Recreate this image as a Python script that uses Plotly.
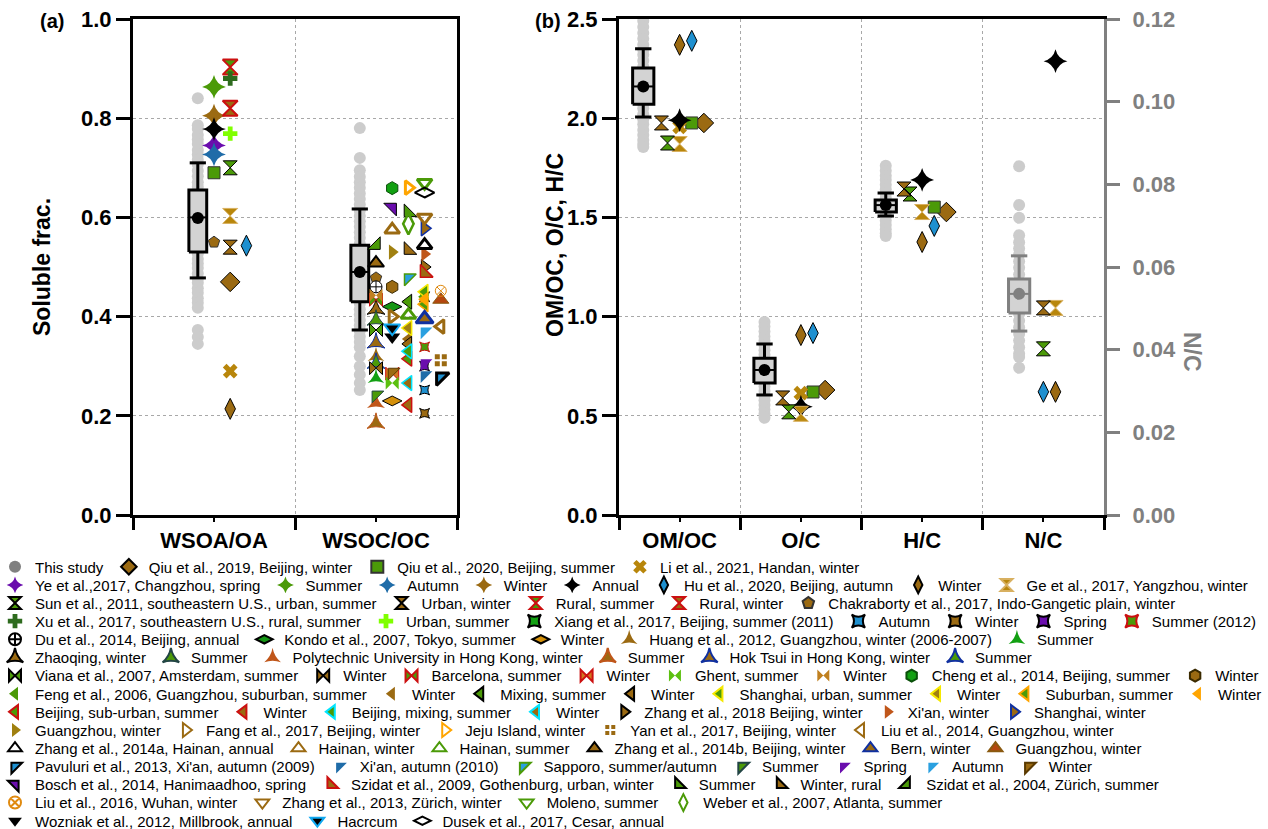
import plotly.graph_objects as go

# ---------------- categories / ticks ----------------
CATS_A = ["WSOA/OA", "WSOC/OC"]
CATS_B = ["OM/OC", "O/C", "H/C", "N/C"]
YTICKS_A = [0.0, 0.2, 0.4, 0.6, 0.8, 1.0]
YTICKS_B = [0.0, 0.5, 1.0, 1.5, 2.0, 2.5]
YTICKS_NC = [0.00, 0.02, 0.04, 0.06, 0.08, 0.10, 0.12]

# ---------------- this study: individual values ----------------
STUDY_WSOA = [0.84, 0.786, 0.778, 0.766, 0.757, 0.748, 0.736, 0.727, 0.716, 0.707, 0.694, 0.683,
              0.671, 0.662, 0.651, 0.643, 0.632, 0.621, 0.612, 0.604, 0.596, 0.588, 0.577, 0.568,
              0.557, 0.546, 0.538, 0.527, 0.516, 0.507, 0.498, 0.487, 0.476, 0.468, 0.457, 0.448,
              0.437, 0.428, 0.418, 0.373, 0.359, 0.345]
STUDY_WSOC = [0.78, 0.72, 0.695, 0.682, 0.671, 0.66, 0.648, 0.637, 0.626, 0.614, 0.603, 0.592,
              0.581, 0.57, 0.559, 0.547, 0.536, 0.525, 0.514, 0.503, 0.492, 0.481, 0.47, 0.459,
              0.448, 0.437, 0.426, 0.415, 0.404, 0.393, 0.382, 0.371, 0.36, 0.349, 0.338, 0.32,
              0.30, 0.283, 0.266, 0.252]
STUDY_OMOC = [2.49, 2.46, 2.43, 2.40, 2.37, 2.345, 2.32, 2.29, 2.26, 2.235, 2.21, 2.18, 2.155,
              2.13, 2.10, 2.075, 2.05, 2.02, 1.995, 1.97, 1.94, 1.915, 1.89, 1.87, 1.855]
STUDY_OC = [0.973, 0.95, 0.925, 0.90, 0.878, 0.855, 0.83, 0.808, 0.785, 0.762, 0.74, 0.715,
            0.692, 0.67, 0.648, 0.625, 0.60, 0.578, 0.555, 0.532, 0.51, 0.49]
STUDY_HC = [1.76, 1.735, 1.71, 1.688, 1.665, 1.642, 1.62, 1.598, 1.575, 1.552, 1.53, 1.508,
            1.485, 1.462, 1.44, 1.42, 1.406]
STUDY_NC = [0.0844, 0.075, 0.0719, 0.0677, 0.066, 0.0645, 0.063, 0.0614, 0.0598, 0.0582, 0.0566,
            0.055, 0.0534, 0.0518, 0.0502, 0.0486, 0.047, 0.0454, 0.0438, 0.0422, 0.0406, 0.039,
            0.0382, 0.0356]

# box statistics: lower whisker, q1, median, q3, upper whisker, mean
BOX_WSOA = [0.478, 0.530, 0.600, 0.655, 0.710, 0.599]
BOX_WSOC = [0.373, 0.430, 0.490, 0.544, 0.617, 0.490]
BOX_OMOC = [2.006, 2.070, 2.160, 2.253, 2.350, 2.160]
BOX_OC = [0.605, 0.665, 0.731, 0.790, 0.862, 0.731]
BOX_HC = [1.507, 1.527, 1.562, 1.588, 1.623, 1.562]
BOX_NC = [0.0445, 0.0489, 0.0535, 0.0571, 0.0627, 0.0535]

# ---------------- literature series ----------------
NAMES = [
    # row 1
    "Qiu et al., 2019, Beijing, winter", "Qiu et al., 2020, Beijing, summer", "Li et al., 2021, Handan, winter",
    # row 2
    "Ye et al.,2017, Changzhou, spring", "Summer", "Autumn", "Winter", "Annual",
    "Hu et al., 2020, Beijing, autumn", "Winter", "Ge et al., 2017, Yangzhou, winter",
    # row 3
    "Sun et al., 2011, southeastern U.S., urban, summer", "Urban, winter", "Rural, summer", "Rural, winter",
    "Chakraborty et al., 2017, Indo-Gangetic plain, winter",
    # row 4
    "Xu et al., 2017, southeastern U.S., rural, summer", "Urban, summer",
    "Xiang et al., 2017, Beijing, summer (2011)", "Autumn", "Winter", "Spring", "Summer (2012)",
    # row 5
    "Du et al., 2014, Beijing, annual", "Kondo et al., 2007, Tokyo, summer", "Winter",
    "Huang et al., 2012, Guangzhou, winter (2006-2007)", "Summer",
    # row 6
    "Zhaoqing, winter", "Summer", "Polytechnic University in Hong Kong, winter", "Summer",
    "Hok Tsui in Hong Kong, winter", "Summer",
    # row 7
    "Viana et al., 2007, Amsterdam, summer", "Winter", "Barcelona, summer", "Winter", "Ghent, summer",
    "Winter", "Cheng et al., 2014, Beijing, summer", "Winter",
    # row 8
    "Feng et al., 2006, Guangzhou, suburban, summer", "Winter", "Mixing, summer", "Winter",
    "Shanghai, urban, summer", "Winter", "Suburban, summer", "Winter",
    # row 9
    "Beijing, sub-urban, summer", "Winter", "Beijing, mixing, summer", "Winter",
    "Zhang et al., 2018 Beijing, winter", "Xi'an, winter", "Shanghai, winter",
    # row 10
    "Guangzhou, winter", "Fang et al., 2017, Beijing, winter", "Jeju Island, winter",
    "Yan et al., 2017, Beijing, winter", "Liu et al., 2014, Guangzhou, winter",
    # row 11
    "Zhang et al., 2014a, Hainan, annual", "Hainan, winter", "Hainan, summer",
    "Zhang et al., 2014b, Beijing, winter", "Bern, winter", "Guangzhou, winter",
    # row 12
    "Pavuluri et al., 2013, Xi'an, autumn (2009)", "Xi'an, autumn (2010)", "Sapporo, summer/autumn",
    "Summer", "Spring", "Autumn", "Winter",
    # row 13
    "Bosch et al., 2014, Hanimaadhoo, spring", "Szidat et al., 2009, Gothenburg, urban, winter",
    "Summer", "Winter, rural", "Szidat et al., 2004, Zürich, summer",
    # row 14
    "Liu et al., 2016, Wuhan, winter", "Zhang et al., 2013, Zürich, winter", "Moleno, summer",
    "Weber et al., 2007, Atlanta, summer",
    # row 15
    "Wozniak et al., 2012, Millbrook, annual", "Hacrcum", "Dusek et al., 2017, Cesar, annual",
]
ROW_SIZES = [3, 8, 5, 7, 5, 6, 8, 8, 7, 5, 6, 7, 5, 4, 3]

# values keyed by series index
VAL_WSOA = {0: 0.47, 1: 0.69, 2: 0.29, 3: 0.745, 4: 0.863, 5: 0.727, 6: 0.805, 7: 0.778,
            8: 0.543, 9: 0.214, 10: 0.603, 11: 0.70, 12: 0.54, 13: 0.903, 14: 0.82, 15: 0.55,
            16: 0.88, 17: 0.769}
VAL_WSOC = {15: 0.478, 18: 0.44, 19: 0.252, 20: 0.205, 21: 0.30, 22: 0.339, 23: 0.46, 24: 0.42,
            25: 0.23, 26: 0.32, 27: 0.276, 28: 0.415, 29: 0.393, 30: 0.226, 31: 0.185, 32: 0.347,
            33: 0.306, 34: 0.373, 35: 0.296, 36: 0.434, 37: 0.285, 38: 0.266, 39: 0.443, 40: 0.659,
            41: 0.46, 42: 0.44, 43: 0.355, 44: 0.43, 45: 0.345, 46: 0.45, 47: 0.377, 48: 0.425,
            49: 0.435, 50: 0.315, 51: 0.222, 52: 0.33, 53: 0.266, 54: 0.50, 55: 0.526, 56: 0.578,
            57: 0.53, 58: 0.40, 59: 0.66, 60: 0.312, 61: 0.38, 62: 0.544, 63: 0.575, 64: 0.403,
            65: 0.508, 66: 0.395, 67: 0.434, 68: 0.278, 69: 0.282, 70: 0.478, 71: 0.242, 72: 0.306,
            73: 0.37, 74: 0.288, 75: 0.62, 76: 0.488, 77: 0.61, 78: 0.534, 79: 0.544, 80: 0.452,
            81: 0.60, 82: 0.67, 83: 0.587, 84: 0.359, 85: 0.377, 86: 0.65}
VAL_OMOC = {0: 1.976, 1: 1.976, 2: 1.956, 7: 1.99, 8: 2.39, 9: 2.37, 10: 1.87, 11: 1.875, 12: 1.976}
VAL_OC = {0: 0.63, 1: 0.62, 2: 0.614, 7: 0.545, 8: 0.917, 9: 0.907, 10: 0.51, 11: 0.52, 12: 0.59}
VAL_HC = {0: 1.527, 1: 1.552, 7: 1.689, 8: 1.457, 9: 1.376, 10: 1.527, 11: 1.618, 12: 1.643}
VAL_NC = {7: 0.1098, 8: 0.0298, 9: 0.0298, 10: 0.0501, 11: 0.0402, 12: 0.0501}

# ---------------- positions (horizontal jitter within category) ----------------
OFF_WSOA = {0: 0.1, 1: 0.0, 2: 0.1, 3: 0.0, 4: 0.0, 5: 0.0, 6: 0.0, 7: 0.0, 8: 0.2, 9: 0.1,
            10: 0.1, 11: 0.1, 12: 0.1, 13: 0.1, 14: 0.1, 15: 0.0, 16: 0.1, 17: 0.1}
OFF_WSOC_DEFAULT = 0.0
OFF_WSOC = {18: 0.3, 19: 0.3, 20: 0.3, 21: 0.3, 22: 0.3, 24: 0.1, 25: 0.1, 37: 0.1, 38: 0.1,
            40: 0.1, 41: 0.1, 42: 0.3, 43: 0.2, 44: 0.2, 45: 0.2, 46: 0.3, 47: 0.2, 48: 0.3,
            49: 0.3, 50: 0.2, 51: 0.2, 52: 0.2, 53: 0.2, 54: 0.3, 55: 0.3, 56: 0.3, 57: 0.1,
            58: 0.1, 59: 0.2, 60: 0.4, 61: 0.4, 62: 0.3, 63: 0.1, 64: 0.2, 66: 0.3, 67: 0.4,
            68: 0.4, 69: 0.3, 70: 0.2, 72: 0.3, 73: 0.3, 74: 0.1, 75: 0.1, 76: 0.3, 77: 0.2,
            78: 0.2, 80: 0.4, 81: 0.3, 82: 0.3, 83: 0.2, 84: 0.1, 85: 0.1, 86: 0.3}
OFF_B = {0: 0.2, 1: 0.1, 2: 0.0, 7: 0.0, 8: 0.1, 9: 0.0, 10: 0.0, 11: -0.1, 12: -0.15}
OFF_NC = {7: 0.1, 8: 0.0, 9: 0.1, 10: 0.1, 11: 0.0, 12: 0.0}
BOX_OFF_A = -0.1
BOX_OFF_B = [-0.3, -0.3, -0.3, -0.2]
BOX_W_A = 0.11
BOX_W_B = 0.175
CAP_A = 0.10
CAP_B = 0.135

# ---------------- styles ----------------
BR = "#9B6A12"; GOLD = "#B8860B"; GR = "#4B9A08"; GRB = "#12A012"; DKG = "#2E6B1E"
LTG = "#80FF00"; PUR = "#6A0DAD"; BLU = "#1F6CA8"; SKY = "#1E90D0"; ORA = "#FFA500"
ORB = "#C0561A"; RED = "#CC1010"; CYA = "#00E5FF"; YEL = "#F5E800"; NAV = "#1030A0"
BLK = "#000000"; WHT = "#FFFFFF"

# symbol, fill, line colour, line width, size
STYLE = [
    ("diamond", BR, BLK, 1, 15), ("square", GR, "#333333", 1, 12), ("x", GOLD, GOLD, 0, 13),
    ("star-diamond", PUR, PUR, 0, 17), ("star-diamond", GR, GR, 0, 17), ("star-diamond", BLU, BLU, 0, 17),
    ("star-diamond", BR, BR, 0, 17), ("star-diamond", BLK, BLK, 0, 17),
    ("diamond-tall", SKY, BLK, 1, 15), ("diamond-tall", BR, BLK, 1, 15), ("hourglass", GOLD, "#D8B060", 1, 15),
    ("hourglass", GR, BLK, 1, 14), ("hourglass", BR, BLK, 1, 14), ("hourglass", GR, RED, 2, 15),
    ("hourglass", BR, RED, 2, 15), ("pentagon", BR, "#333333", 1, 12),
    ("cross", DKG, DKG, 0, 12), ("cross", LTG, LTG, 0, 12),
    ("star-square", GRB, BLK, 1, 9), ("star-square", SKY, BLK, 1, 9), ("star-square", BR, BLK, 1, 9),
    ("star-square", PUR, BLK, 1, 9), ("star-square", GR, RED, 1, 9),
    ("circle-cross", WHT, BLK, 1, 12), ("diamond-wide", "#149614", BLK, 1, 14), ("diamond-wide", "#D4900A", BLK, 1, 14),
    ("star-triangle-up", BR, BR, 0, 12), ("star-triangle-up", GRB, GRB, 0, 12),
    ("star-triangle-up", BR, BLK, 1, 13), ("star-triangle-up", GR, "#244", 1, 13),
    ("star-triangle-up", ORB, ORB, 0, 13), ("star-triangle-up", BR, ORB, 1, 13),
    ("star-triangle-up", BR, NAV, 1, 13), ("star-triangle-up", GR, NAV, 1, 13),
    ("bowtie", GR, BLK, 1, 13), ("bowtie", BR, BLK, 1, 13), ("bowtie", GR, RED, 1, 13),
    ("bowtie", "#D07820", RED, 1, 13), ("bowtie", "#5CC010", "#5CC010", 0, 13), ("bowtie", "#C08020", "#C08020", 0, 13),
    ("hexagon", GRB, "#0A500A", 1, 13), ("hexagon", BR, "#3A2A00", 1, 13),
    ("triangle-left", GR, GR, 0, 13), ("triangle-left", BR, BR, 0, 13), ("triangle-left", GR, BLK, 1, 13),
    ("triangle-left", BR, BLK, 1, 13), ("triangle-left", GR, YEL, 1.5, 13), ("triangle-left", "#A08010", YEL, 1.5, 13),
    ("triangle-left", GR, ORA, 1.5, 13), ("triangle-left", ORA, ORA, 0, 13),
    ("triangle-left", GR, RED, 1.5, 13), ("triangle-left", BR, RED, 1.5, 13), ("triangle-left", GR, CYA, 1.5, 13),
    ("triangle-left", BR, CYA, 1.5, 13), ("triangle-right", BR, BLK, 1, 13), ("triangle-right", ORB, ORB, 0, 13),
    ("triangle-right", BR, NAV, 1.5, 13),
    ("triangle-right", "#A08010", "#A08010", 0, 13), ("triangle-right-open", BR, BR, 3, 12),
    ("triangle-right-open", ORA, ORA, 3, 12), ("square-cross", BR, WHT, 2, 14),
    ("triangle-left-open", BR, BR, 3, 12),
    ("triangle-up-open", BLK, BLK, 3, 13), ("triangle-up-open", BR, BR, 3, 13), ("triangle-up-open", GR, GR, 3, 13),
    ("triangle-up", BR, BLK, 2, 14), ("triangle-up", BR, NAV, 3, 15), ("triangle-up", "#B5470F", "#8A5A10", 1, 14),
    ("triangle-nw", SKY, BLK, 3, 14), ("triangle-nw", BLU, BLU, 0, 13), ("triangle-nw", "#2AA0E0", GR, 1.5, 13),
    ("triangle-nw", GR, "#244", 1, 13), ("triangle-nw", PUR, PUR, 0, 13), ("triangle-nw", "#2AA0E0", "#2AA0E0", 0, 13),
    ("triangle-nw", BR, "#5A3A00", 1, 13),
    ("triangle-ne", PUR, BLK, 1, 14), ("triangle-sw", BR, RED, 1.5, 14), ("triangle-sw", GR, BLK, 1, 14),
    ("triangle-sw", BR, BLK, 1, 14), ("triangle-se", GR, BLK, 1, 14),
    ("circle-x-open", "#E08A10", "#E08A10", 1, 11), ("triangle-down-open", BR, BR, 3, 13),
    ("triangle-down-open", GR, GR, 3, 13), ("diamond-tall-open", GR, GR, 2.5, 15),
    ("triangle-down", BLK, BLK, 0, 14), ("triangle-down", BLK, "#10A8F0", 2, 14),
    ("diamond-wide-open", BLK, BLK, 2, 14),
]

FONT = "Liberation Sans, Arial, sans-serif"
DOT = "#CCCCCC"
BOXFILL = "#D3D3D3"
NCGRAY = "#808080"

fig = go.Figure()

# legend rows
row_of = []
for r, n in enumerate(ROW_SIZES):
    row_of += [r] * n


def lname(r):
    return "legend" if r == 0 else f"legend{r + 1}"


# "This study" legend entry
fig.add_trace(go.Scatter(x=[None], y=[None], mode="markers", name="This study",
                         marker=dict(symbol="circle", size=13, color=NCGRAY),
                         legend="legend", showlegend=True))


def study(xpos, vals, stats, xa, ya, col, w, cap):
    lo, q1, med, q3, hi, mean = stats
    fig.add_trace(go.Scatter(x=[xpos] * len(vals), y=vals, mode="markers", xaxis=xa, yaxis=ya,
                             marker=dict(symbol="circle", size=12, color=DOT), showlegend=False,
                             hoverinfo="y"))
    # whiskers + caps
    fig.add_trace(go.Scatter(
        x=[xpos, xpos, None, xpos, xpos, None, xpos - cap / 2, xpos + cap / 2, None, xpos - cap / 2, xpos + cap / 2],
        y=[q3, hi, None, q1, lo, None, hi, hi, None, lo, lo],
        mode="lines", line=dict(color=col, width=3), xaxis=xa, yaxis=ya, showlegend=False, hoverinfo="skip"))
    # box
    fig.add_trace(go.Scatter(
        x=[xpos - w / 2, xpos + w / 2, xpos + w / 2, xpos - w / 2, xpos - w / 2],
        y=[q1, q1, q3, q3, q1], mode="lines", fill="toself", fillcolor=BOXFILL,
        line=dict(color=col, width=3), xaxis=xa, yaxis=ya, showlegend=False, hoverinfo="skip"))
    # median
    fig.add_trace(go.Scatter(x=[xpos - w / 2, xpos + w / 2], y=[med, med], mode="lines",
                             line=dict(color=col, width=2), xaxis=xa, yaxis=ya, showlegend=False,
                             hoverinfo="skip"))
    # mean
    fig.add_trace(go.Scatter(x=[xpos], y=[mean], mode="markers", xaxis=xa, yaxis=ya,
                             marker=dict(symbol="circle", size=12, color=col), showlegend=False))


study(0 + BOX_OFF_A, STUDY_WSOA, BOX_WSOA, "x", "y", BLK, BOX_W_A, CAP_A)
study(1 + BOX_OFF_A, STUDY_WSOC, BOX_WSOC, "x", "y", BLK, BOX_W_A, CAP_A)
study(0 + BOX_OFF_B[0], STUDY_OMOC, BOX_OMOC, "x2", "y2", BLK, BOX_W_B, CAP_B)
study(1 + BOX_OFF_B[1], STUDY_OC, BOX_OC, "x2", "y2", BLK, BOX_W_B, CAP_B)
study(2 + BOX_OFF_B[2], STUDY_HC, BOX_HC, "x2", "y2", BLK, BOX_W_B, CAP_B)
study(3 + BOX_OFF_B[3], STUDY_NC, BOX_NC, "x2", "y3", NCGRAY, BOX_W_B, CAP_B)

# literature markers
for i, name in enumerate(NAMES):
    sym, fill, lc, lw, size = STYLE[i]
    marker = dict(symbol=sym, color=fill, size=size, line=dict(color=lc, width=lw))
    groups = []
    xa_, ya_ = [], []
    if i in VAL_WSOA:
        xa_.append(0 + OFF_WSOA.get(i, 0.0)); ya_.append(VAL_WSOA[i])
    if i in VAL_WSOC:
        xa_.append(1 + OFF_WSOC.get(i, OFF_WSOC_DEFAULT)); ya_.append(VAL_WSOC[i])
    if xa_:
        groups.append((xa_, ya_, "x", "y"))
    xb_, yb_ = [], []
    for c, d in enumerate([VAL_OMOC, VAL_OC, VAL_HC]):
        if i in d:
            xb_.append(c + OFF_B.get(i, 0.0)); yb_.append(d[i])
    if xb_:
        groups.append((xb_, yb_, "x2", "y2"))
    if i in VAL_NC:
        groups.append(([3 + OFF_NC.get(i, 0.0)], [VAL_NC[i]], "x2", "y3"))
    if not groups:
        groups.append(([None], [None], "x", "y"))
    for k, (gx, gy, xa, ya) in enumerate(groups):
        fig.add_trace(go.Scatter(x=gx, y=gy, mode="markers", name=name, marker=marker,
                                 xaxis=xa, yaxis=ya, legend=lname(row_of[i]), showlegend=(k == 0)))

W, H = 1268, 829
PLOT_H = 530          # plot area occupies the top 530 px; legends live in the bottom margin
MARGIN_B = H - PLOT_H


def px_x(p):
    return p / W


def px_y(p):
    return (PLOT_H - p) / PLOT_H


tickfont = dict(family=FONT, size=22, color=BLK, weight="bold")
catfont = dict(family=FONT, size=22, color=BLK, weight="bold")
grid = dict(showgrid=True, gridcolor="#A8A8A8", griddash="dot", gridwidth=1)

layout = dict(
    width=W, height=H, margin=dict(l=0, r=0, t=0, b=MARGIN_B, autoexpand=False),
    paper_bgcolor="white", plot_bgcolor="white",
    font=dict(family=FONT, color=BLK),
    xaxis=dict(domain=[px_x(133), px_x(457)], range=[-0.5, 1.5], tickvals=[0, 1], ticktext=CATS_A,
               ticks="outside", ticklen=4, tickwidth=2, tickcolor=BLK, showline=True, linewidth=3,
               linecolor=BLK, mirror=True, showgrid=False, zeroline=False, tickfont=catfont,
               minor=dict(tickvals=[-0.5, 0.5, 1.5], ticks="outside", ticklen=12, tickwidth=3,
                          tickcolor=BLK, **grid), anchor="y"),
    yaxis=dict(domain=[px_y(515), px_y(19)], range=[0, 1.0], tickvals=YTICKS_A, tickformat=".1f",
               ticks="outside", ticklen=14, tickwidth=3, tickcolor=BLK, showline=True, linewidth=3,
               linecolor=BLK, mirror=True, zeroline=False, tickfont=tickfont, anchor="x", **grid),
    xaxis2=dict(domain=[px_x(619), px_x(1104)], range=[-0.5, 3.5], tickvals=[0, 1, 2, 3], ticktext=CATS_B,
                ticks="outside", ticklen=4, tickwidth=2, tickcolor=BLK, showline=True, linewidth=3,
                linecolor=BLK, mirror=True, showgrid=False, zeroline=False, tickfont=catfont,
                minor=dict(tickvals=[-0.5, 0.5, 1.5, 2.5, 3.5], ticks="outside", ticklen=12, tickwidth=3,
                           tickcolor=BLK, **grid), anchor="y2"),
    yaxis2=dict(domain=[px_y(515), px_y(19)], range=[0, 2.5], tickvals=YTICKS_B, tickformat=".1f",
                ticks="outside", ticklen=14, tickwidth=3, tickcolor=BLK, showline=True, linewidth=3,
                linecolor=BLK, zeroline=False, tickfont=tickfont, anchor="x2", **grid),
    yaxis3=dict(range=[0, 0.12], tickvals=YTICKS_NC, tickformat=".2f", overlaying="y2", side="right",
                anchor="x2", ticks="outside", ticklen=13, tickwidth=3, tickcolor=NCGRAY, showline=True,
                linewidth=3, linecolor=NCGRAY, zeroline=False, showgrid=False, ticklabelstandoff=8,
                tickfont=dict(family=FONT, size=22, color=NCGRAY, weight="bold")),
    showlegend=True,
)

ROW_Y0, ROW_DY = 567, 18.14
for r in range(len(ROW_SIZES)):
    layout[lname(r)] = dict(orientation="h", x=px_x(-5), xanchor="left", y=px_y(ROW_Y0 + r * ROW_DY),
                            yanchor="middle", bgcolor="rgba(0,0,0,0)", borderwidth=0,
                            font=dict(family=FONT, size=15, color=BLK), itemsizing="constant",
                            traceorder="normal")

fig.update_layout(**layout)

ann_common = dict(xref="paper", yref="paper", showarrow=False, xanchor="center", yanchor="middle")
ann = [
    dict(text="<b>(a)</b>", x=px_x(52), y=px_y(21), font=dict(family=FONT, size=20, color=BLK), **ann_common),
    dict(text="<b>(b)</b>", x=px_x(548), y=px_y(21), font=dict(family=FONT, size=20, color=BLK), **ann_common),
    dict(text="<b>Soluble frac.</b>", x=px_x(42), y=px_y(267), textangle=-90,
         font=dict(family=FONT, size=23, color=BLK), **ann_common),
    dict(text="<b>OM/OC, O/C, H/C</b>", x=px_x(555), y=px_y(245), textangle=-90,
         font=dict(family=FONT, size=23, color=BLK), **ann_common),
    dict(text="<b>N/C</b>", x=px_x(1192), y=px_y(352), textangle=90,
         font=dict(family=FONT, size=23, color=NCGRAY), **ann_common),
]
fig.update_layout(annotations=ann)

fig.write_html("out.html")
